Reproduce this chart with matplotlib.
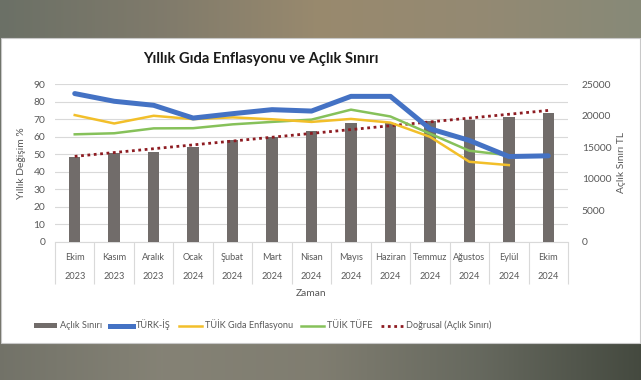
import numpy as np
import matplotlib
matplotlib.use('Agg')
from matplotlib import pyplot as plt
from matplotlib.patches import Rectangle, Patch
from matplotlib.lines import Line2D

plt.rcParams['font.family'] = ['Lato', 'DejaVu Sans']

# Data
months = ['Ekim', 'Kasım', 'Aralık', 'Ocak', 'Şubat', 'Mart', 'Nisan',
          'Mayıs', 'Haziran', 'Temmuz', 'Ağustos', 'Eylül', 'Ekim']
years = ['2023', '2023', '2023', '2024', '2024', '2024', '2024',
         '2024', '2024', '2024', '2024', '2024', '2024']
aclik_siniri = [13530, 14060, 14280, 14970, 16090, 16610, 17660,
                18830, 18900, 19160, 19270, 19810, 20450]
turk_is = [84.7, 80.3, 78.0, 70.7, 73.2, 75.5, 74.7, 83.1, 83.1, 64.6, 57.9, 48.7, 49.1]
tuik_gida = [72.4, 67.6, 72.0, 70.1, 71.1, 70.0, 68.5, 70.2, 68.1, 60.0, 45.7, 43.8]
tuik_tufe = [61.4, 62.0, 64.8, 64.9, 67.1, 68.5, 69.8, 75.5, 71.6, 61.8, 52.0, 49.4]

gray_txt = '#595959'
bar_col = '#716c6a'
blue = '#4472c4'
yellow = '#f2bf2a'
green = '#86c15a'
red = '#8e1c22'

fig = plt.figure(figsize=(6.41, 3.80), dpi=100)

# photo-like background bands
bg = fig.add_axes([0, 0, 1, 1])
top = np.array([[0.42, 0.44, 0.40], [0.50, 0.48, 0.42], [0.60, 0.54, 0.43],
                [0.58, 0.54, 0.45], [0.53, 0.54, 0.47]])
bot = np.array([[0.45, 0.45, 0.41], [0.52, 0.51, 0.46], [0.50, 0.49, 0.44],
                [0.40, 0.41, 0.37], [0.27, 0.29, 0.25]])
xs = np.linspace(0, 1, 5)
xx = np.linspace(0, 1, 200)
top_row = np.stack([np.interp(xx, xs, top[:, c]) for c in range(3)], axis=-1)
bot_row = np.stack([np.interp(xx, xs, bot[:, c]) for c in range(3)], axis=-1)
img = np.vstack([np.repeat(top_row[None], 50, 0), np.repeat(bot_row[None], 50, 0)])
bg.imshow(img, aspect='auto', extent=[0, 1, 0, 1], interpolation='bilinear')
bg.add_patch(Rectangle((0.002, 37.5 / 380), 0.996, 305 / 380,
                       facecolor='white', edgecolor='#c8c8c8', lw=0.8, zorder=2))
bg.set_xlim(0, 1)
bg.set_ylim(0, 1)
bg.axis('off')

rect = [55 / 641, 1 - 241.7 / 380, 513 / 641, 157.4 / 380]
x = np.arange(len(months))

# grid + left axis
ax = fig.add_axes(rect)
ax.set_xlim(-0.5, len(months) - 0.5)
ax.set_ylim(0, 90)
ax.set_yticks(range(0, 91, 10))
ax.grid(axis='y', color='#d9d9d9', lw=0.8)
for s in ['top', 'right', 'left']:
    ax.spines[s].set_visible(False)
ax.spines['bottom'].set_color('#d9d9d9')
ax.tick_params(axis='y', length=0, pad=7, labelsize=7.4, labelcolor=gray_txt)
ax.set_xticks(x)
ax.set_xticklabels([m + '\n' + y for m, y in zip(months, years)],
                   linespacing=2.5)
ax.set_xticks(np.arange(-0.5, len(months)), minor=True)
ax.tick_params(axis='x', which='major', length=0, pad=8, labelsize=6.6,
               labelcolor=gray_txt)
ax.tick_params(axis='x', which='minor', length=30, width=0.8, color='#d9d9d9')
ax.set_ylabel('Yıllık Değişim %', fontsize=7.4, color=gray_txt, labelpad=5)
ax.set_xlabel('Zaman', fontsize=7.4, color=gray_txt, labelpad=1)

# bars + trend on right axis
axb = ax.twinx()
axb.set_ylim(0, 25000)
axb.set_yticks(range(0, 25001, 5000))
axb.bar(x, aclik_siniri, width=0.29, color=bar_col)
coef = np.polyfit(x, aclik_siniri, 1)
axb.plot(x, np.polyval(coef, x), color=red, lw=2, linestyle=(0, (1, 1.3)))
for s in axb.spines.values():
    s.set_visible(False)
axb.tick_params(axis='y', length=0, pad=10, labelsize=7.4, labelcolor=gray_txt)
axb.set_ylabel('Açlık Sınırı TL', fontsize=7.4, color=gray_txt, labelpad=4)

# lines on top
axl = ax.twinx()
axl.set_ylim(0, 90)
axl.axis('off')
axl.plot(x[:len(tuik_tufe)], tuik_tufe, color=green, lw=1.8)
axl.plot(x[:len(tuik_gida)], tuik_gida, color=yellow, lw=1.8)
axl.plot(x, turk_is, color=blue, lw=3.6, solid_capstyle='round')

fig.text(261 / 641, 1 - 59 / 380, 'Yıllık Gıda Enflasyonu ve Açlık Sınırı',
         ha='center', va='center', fontsize=10.6, fontweight='bold', color='#1a1a1a')

handles = [Patch(facecolor=bar_col),
           Line2D([], [], color=blue, lw=3.6),
           Line2D([], [], color=yellow, lw=1.8),
           Line2D([], [], color=green, lw=1.8),
           Line2D([], [], color=red, lw=2, linestyle=(0, (1, 1.3)))]
labels = ['Açlık Sınırı', 'TÜRK-İŞ', 'TÜİK Gıda Enflasyonu', 'TÜİK TÜFE',
          'Doğrusal (Açlık Sınırı)']
leg = fig.legend(handles, labels, loc='center', ncol=5,
                 bbox_to_anchor=(263 / 641, 1 - 325 / 380), frameon=False,
                 fontsize=6.6, handlelength=2.5, handletextpad=0.3,
                 columnspacing=0.9, handleheight=0.5)
for t in leg.get_texts():
    t.set_color(gray_txt)

fig.savefig('out.png', dpi=100)
